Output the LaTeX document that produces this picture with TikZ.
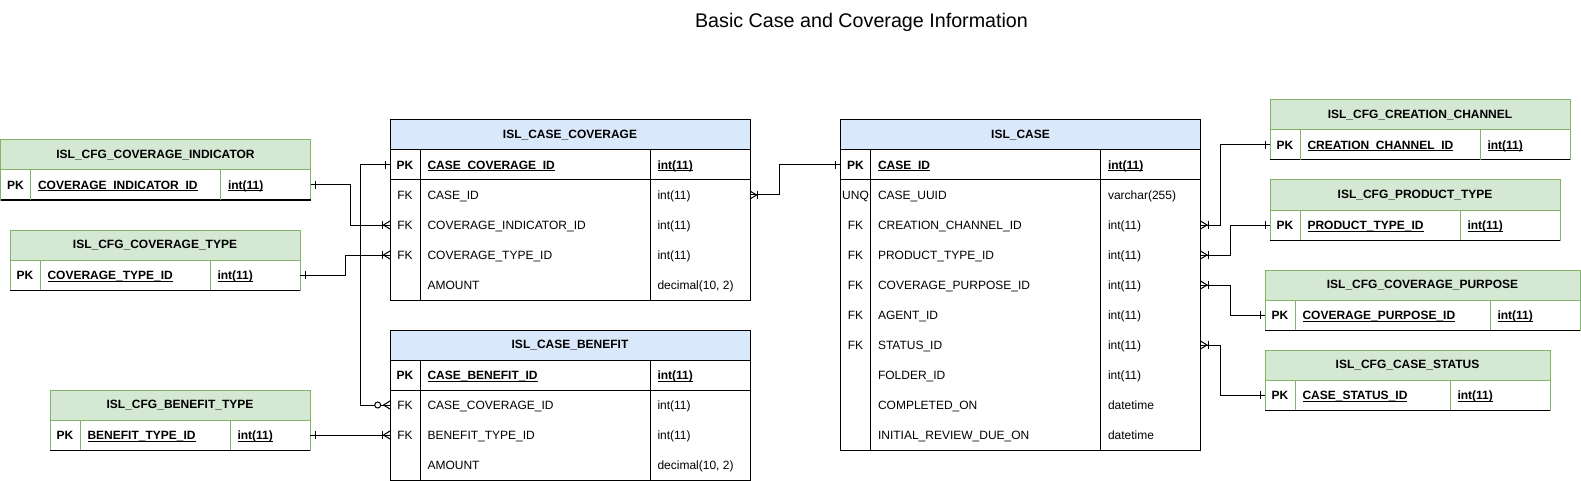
\documentclass[tikz,border=0pt]{standalone}
\usepackage{fontspec}
\setmainfont{Liberation Sans}
\usetikzlibrary{calc}
\definecolor{gfill}{HTML}{D5E8D4}
\definecolor{gline}{HTML}{82B366}
\definecolor{bfill}{HTML}{DAE8FC}
\newsavebox{\ulbox}
\newcommand{\ulx}[1]{\sbox\ulbox{#1}\rlap{\rule[-1.8pt]{\wd\ulbox}{0.8pt}}\usebox\ulbox}
\newcommand{\fs}{\fontsize{12}{14}\selectfont}
\tikzset{
  rowbox/.style={minimum width=#1, minimum height=30pt, inner sep=0pt, outer sep=0pt, anchor=north west},
  rowbox/.default=360pt,
  txt/.style={font=\fs, inner sep=0pt, outer sep=0pt, anchor=base west},
  keyt/.style={font=\fs, inner sep=0pt, outer sep=0pt, anchor=base},
  conn/.style={line width=1pt, black},
  frame/.style={line width=1pt, inner sep=0pt, outer sep=0pt, anchor=north west},
}
% green config table: name, x, y, width, type-divider offset, title, field
\newcommand{\cfgtab}[7]{%
  \node[frame, draw=gline, fill=gfill, minimum width=#4pt, minimum height=30pt, font=\bfseries\fs] (#1) at (#2,#3) {#6};
  \node[rowbox=#4pt, draw=gline, fill=white, line width=1pt] (#1-pk) at (#2,#3+30) {};
  \draw[line width=1pt] (#1-pk.south west) -- (#1-pk.south east);
  \draw[gline, line width=1pt] ($(#1-pk.north west)+(30,0)$) -- ($(#1-pk.south west)+(30,0)$);
  \draw[gline, line width=1pt] ($(#1-pk.north west)+(#5,0)$) -- ($(#1-pk.south west)+(#5,0)$);
  \node[keyt, font=\bfseries\fs] (#1-k) at ($(#1-pk.west)+(15,4.5)$) {PK};
  \node[txt, font=\bfseries\fs] (#1-n) at ($(#1-pk.west)+(37.5,4.5)$) {\ulx{#7}};
  \node[txt, font=\bfseries\fs] (#1-t) at ($(#1-pk.west)+(#5+7.5,4.5)$) {\ulx{int(11)}};
}
% blue entity table: name, x, y, height, title
\newcommand{\btab}[5]{%
  \node[frame, draw, fill=bfill, minimum width=360pt, minimum height=30pt, font=\bfseries\fs] (#1) at (#2,#3) {#5};
  \node[frame, draw, fill=white, minimum width=360pt, minimum height=#4pt-30pt] (#1-body) at (#2,#3+30) {};
  \draw[line width=1pt] ($(#1-body.north west)+(0,30)$) -- ($(#1-body.north east)+(0,30)$);
  \draw[line width=1pt] ($(#1-body.north west)+(30,0)$) -- ($(#1-body.south west)+(30,0)$);
  \draw[line width=1pt] ($(#1-body.north west)+(260,0)$) -- ($(#1-body.south west)+(260,0)$);
}
% row: table, index, key, name, type
\newcommand{\brow}[5]{%
  \node[rowbox] (#1-r#2) at ($(#1-body.north west)+(0,30*#2)$) {};
  \node[keyt] (#1-k#2) at ($(#1-r#2.west)+(15,4.5)$) {#3};
  \node[txt] (#1-n#2) at ($(#1-r#2.west)+(37.5,4.5)$) {#4};
  \node[txt] (#1-t#2) at ($(#1-r#2.west)+(267.5,4.5)$) {#5};
}
\newcommand{\onebar}[2]{\draw[conn] ($(#1)+(#2*5,-4)$) -- ($(#1)+(#2*5,4)$);}
\newcommand{\crowm}[2]{%
  \draw[conn] ($(#1)+(0,-4)$) -- ($(#1)+(#2*6.5,0)$) -- ($(#1)+(0,4)$);
  \draw[conn] ($(#1)+(#2*7.5,-4)$) -- ($(#1)+(#2*7.5,4)$);}
\newcommand{\crowz}[2]{%
  \draw[conn] ($(#1)+(0,-4)$) -- ($(#1)+(#2*6.5,0)$) -- ($(#1)+(0,4)$);
  \draw[conn, fill=white] ($(#1)+(#2*12.3,0)$) circle (3pt);}

\begin{document}
\begin{tikzpicture}[x=1pt, y=-1pt]
\fill[white] (0,0) rectangle (1581,481);
\useasboundingbox (0,0) rectangle (1581,481);

\node[font=\fontsize{19.7}{23}\selectfont, anchor=base, inner sep=0pt] (title) at (861.5,28) {Basic Case and Coverage Information};

% green configuration tables
\cfgtab{ci}{0.5}{140}{310}{220}{ISL\_CFG\_COVERAGE\_INDICATOR}{COVERAGE\_INDICATOR\_ID}
\cfgtab{ct}{10}{230}{290}{200}{ISL\_CFG\_COVERAGE\_TYPE}{COVERAGE\_TYPE\_ID}
\cfgtab{bt}{50}{390}{260}{180}{ISL\_CFG\_BENEFIT\_TYPE}{BENEFIT\_TYPE\_ID}
\cfgtab{cch}{1270}{100}{300}{210}{ISL\_CFG\_CREATION\_CHANNEL}{CREATION\_CHANNEL\_ID}
\cfgtab{pt}{1270}{180}{290}{190}{ISL\_CFG\_PRODUCT\_TYPE}{PRODUCT\_TYPE\_ID}
\cfgtab{cp}{1265}{270}{315}{225}{ISL\_CFG\_COVERAGE\_PURPOSE}{COVERAGE\_PURPOSE\_ID}
\cfgtab{cs}{1265}{350}{285}{185}{ISL\_CFG\_CASE\_STATUS}{CASE\_STATUS\_ID}

% ISL_CASE_COVERAGE
\btab{cc}{390}{120}{180}{ISL\_CASE\_COVERAGE}
\brow{cc}{0}{\textbf{PK}}{\ulx{\textbf{CASE\_COVERAGE\_ID}}}{\ulx{\textbf{int(11)}}}
\brow{cc}{1}{FK}{CASE\_ID}{int(11)}
\brow{cc}{2}{FK}{COVERAGE\_INDICATOR\_ID}{int(11)}
\brow{cc}{3}{FK}{COVERAGE\_TYPE\_ID}{int(11)}
\brow{cc}{4}{}{AMOUNT}{decimal(10, 2)}

% ISL_CASE_BENEFIT
\btab{cb}{390}{330}{150}{ISL\_CASE\_BENEFIT}
\brow{cb}{0}{\textbf{PK}}{\ulx{\textbf{CASE\_BENEFIT\_ID}}}{\ulx{\textbf{int(11)}}}
\brow{cb}{1}{FK}{CASE\_COVERAGE\_ID}{int(11)}
\brow{cb}{2}{FK}{BENEFIT\_TYPE\_ID}{int(11)}
\brow{cb}{3}{}{AMOUNT}{decimal(10, 2)}

% ISL_CASE
\btab{case}{840.5}{120}{330}{ISL\_CASE}
\brow{case}{0}{\textbf{PK}}{\ulx{\textbf{CASE\_ID}}}{\ulx{\textbf{int(11)}}}
\brow{case}{1}{UNQ}{CASE\_UUID}{varchar(255)}
\brow{case}{2}{FK}{CREATION\_CHANNEL\_ID}{int(11)}
\brow{case}{3}{FK}{PRODUCT\_TYPE\_ID}{int(11)}
\brow{case}{4}{FK}{COVERAGE\_PURPOSE\_ID}{int(11)}
\brow{case}{5}{FK}{AGENT\_ID}{int(11)}
\brow{case}{6}{FK}{STATUS\_ID}{int(11)}
\brow{case}{7}{}{FOLDER\_ID}{int(11)}
\brow{case}{8}{}{COMPLETED\_ON}{datetime}
\brow{case}{9}{}{INITIAL\_REVIEW\_DUE\_ON}{datetime}

% connectors
\draw[conn] (ci-pk.east) -- ++(40,0) |- (cc-r2.west);
\draw[conn] (ct-pk.east) -- ++(45,0) |- (cc-r3.west);
\draw[conn] (cc-r0.west) -- ++(-30,0) |- (cb-r1.west);
\draw[conn] (bt-pk.east) -- (cb-r2.west);
\draw[conn] (cc-r1.east) -- ++(29.5,0) |- (case-r0.west);
\draw[conn] (case-r2.east) -- ++(20,0) |- (cch-pk.west);
\draw[conn] (case-r3.east) -- ++(30,0) |- (pt-pk.west);
\draw[conn] (case-r4.east) -- ++(30,0) |- (cp-pk.west);
\draw[conn] (case-r6.east) -- ++(20,0) |- (cs-pk.west);

% end markers
\onebar{ci-pk.east}{1}  \crowm{cc-r2.west}{-1}
\onebar{ct-pk.east}{1}  \crowm{cc-r3.west}{-1}
\onebar{cc-r0.west}{-1} \crowz{cb-r1.west}{-1}
\onebar{bt-pk.east}{1}  \crowm{cb-r2.west}{-1}
\crowm{cc-r1.east}{1}   \onebar{case-r0.west}{-1}
\crowm{case-r2.east}{1} \onebar{cch-pk.west}{-1}
\crowm{case-r3.east}{1} \onebar{pt-pk.west}{-1}
\crowm{case-r4.east}{1} \onebar{cp-pk.west}{-1}
\crowm{case-r6.east}{1} \onebar{cs-pk.west}{-1}
\end{tikzpicture}
\end{document}
